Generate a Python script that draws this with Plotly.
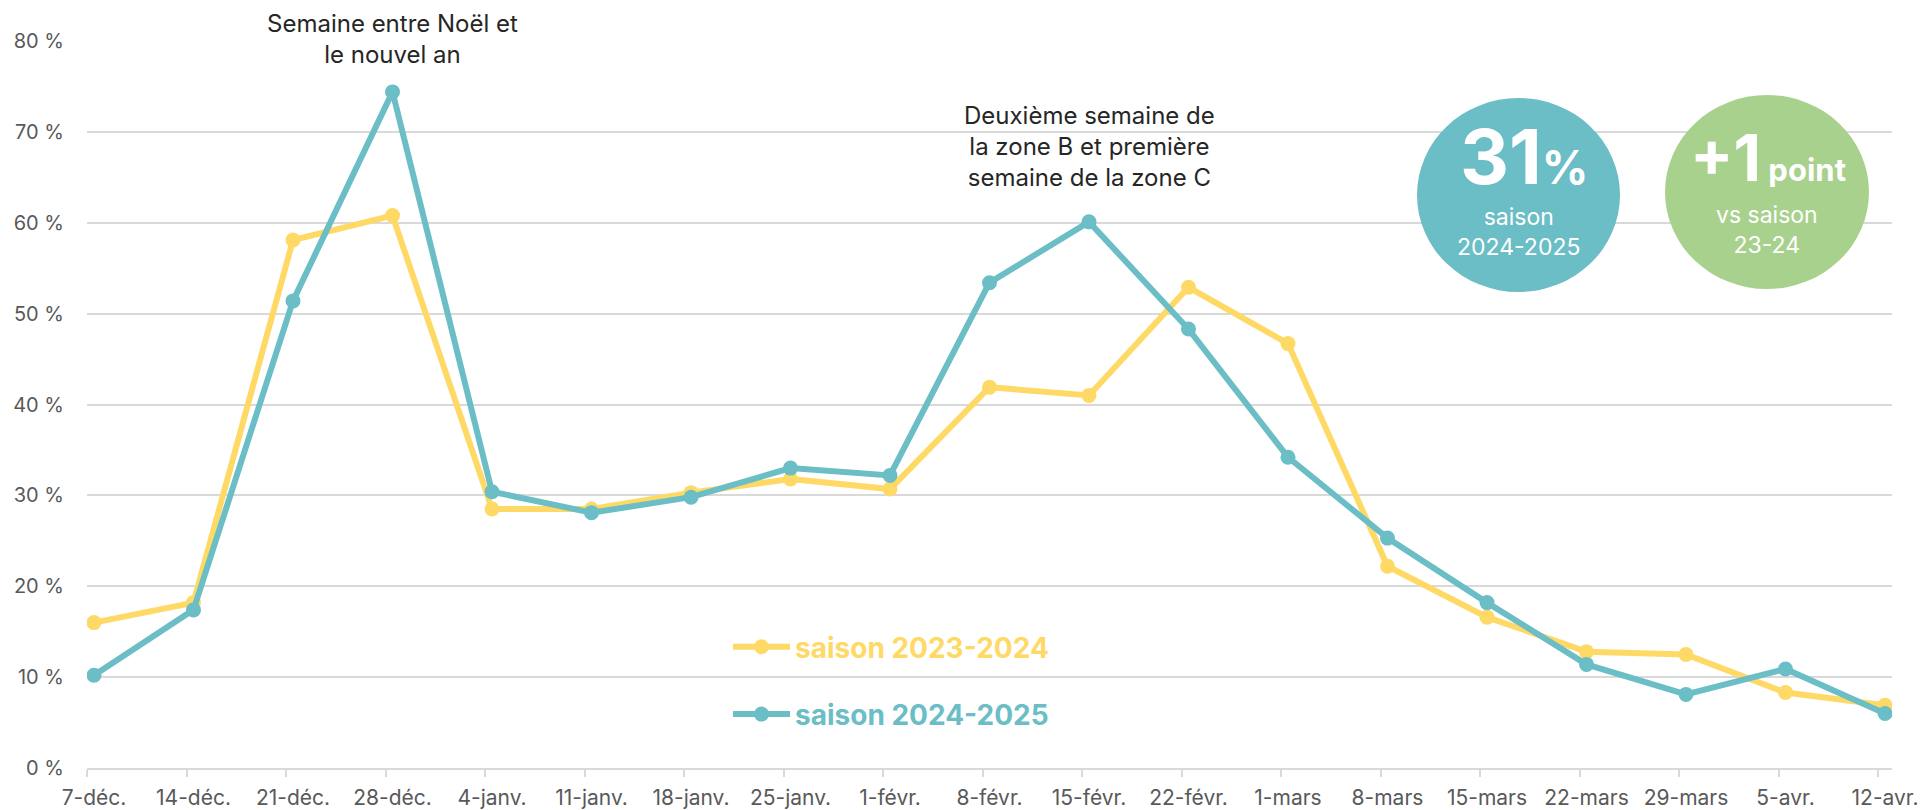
import plotly.graph_objects as go

# ---------------- data ----------------
weeks = ["7-déc.", "14-déc.", "21-déc.", "28-déc.", "4-janv.", "11-janv.", "18-janv.",
         "25-janv.", "1-févr.", "8-févr.", "15-févr.", "22-févr.", "1-mars", "8-mars",
         "15-mars", "22-mars", "29-mars", "5-avr.", "12-avr."]
saison_2023_2024 = [16.0, 18.2, 58.1, 60.8, 28.5, 28.5, 30.3, 31.8, 30.7, 41.9, 41.0,
                    52.9, 46.7, 22.2, 16.6, 12.8, 12.5, 8.3, 6.9]
saison_2024_2025 = [10.2, 17.4, 51.4, 74.4, 30.4, 28.1, 29.8, 33.0, 32.2, 53.4, 60.1,
                    48.3, 34.2, 25.3, 18.2, 11.4, 8.1, 10.9, 6.0]
series_names = ["saison 2023-2024", "saison 2024-2025"]
y_ticks = [0, 10, 20, 30, 40, 50, 60, 70, 80]

# ---------------- style ----------------
YELLOW = "#FFD966"
TEAL = "#6BBDC6"
GREEN = "#A9D18E"
GRID = "#D9D9D9"
LABEL = "#595959"
DARK = "#262626"
FONT = "Inter"

W, H = 1924, 810
L, R, T, B = 87, 32, 41, 42
PW, PH = W - L - R, H - T - B


def px(x):
    return (x - L) / PW


def py(y):
    return (H - B - y) / PH


xs = list(range(len(weeks)))
off = 7 / 99.5  # tick marks sit slightly left of the points

fig = go.Figure()
for name, vals, col in [(series_names[0], saison_2023_2024, YELLOW),
                        (series_names[1], saison_2024_2025, TEAL)]:
    fig.add_trace(go.Scatter(
        x=xs, y=vals, mode="lines+markers",
        name=f'<span style="color:{col}"><b>{name}</b></span>',
        legendgroup=name,
        line=dict(color=col, width=6),
        marker=dict(color=col, size=15),
        hoverinfo="skip",
    ))

annotations = [
    dict(text="Semaine entre Noël et<br>le nouvel an", xref="x", yref="paper",
         x=3, y=py(39), xanchor="center", yanchor="middle", showarrow=False,
         font=dict(family=FONT, size=24, color=DARK)),
    dict(text="Deuxième semaine de<br>la zone B et première<br>semaine de la zone C",
         xref="x", yref="paper", x=10, y=py(146), xanchor="center", yanchor="middle",
         showarrow=False, font=dict(family=FONT, size=24, color=DARK)),
    dict(text='<b>31</b><b><span style="font-size:46px">%</span></b>', xref="paper", yref="paper",
         x=px(1524), y=py(156), xanchor="center", yanchor="middle", showarrow=False,
         font=dict(family=FONT, size=76, color="white")),
    dict(text="saison<br>2024-2025", xref="paper", yref="paper",
         x=px(1518), y=py(232), xanchor="center", yanchor="middle", showarrow=False,
         font=dict(family=FONT, size=23, color="white")),
    dict(text='<b>+1</b><b><span style="font-size:31px"> point</span></b>', xref="paper", yref="paper",
         x=px(1768), y=py(158), xanchor="center", yanchor="middle", showarrow=False,
         font=dict(family=FONT, size=64, color="white")),
    dict(text="vs saison<br>23-24", xref="paper", yref="paper",
         x=px(1767), y=py(230), xanchor="center", yanchor="middle", showarrow=False,
         font=dict(family=FONT, size=23, color="white")),
]

shapes = [
    dict(type="circle", xref="paper", yref="paper", x0=px(1417), x1=px(1620),
         y0=py(292), y1=py(98), fillcolor=TEAL, line=dict(width=0), layer="above"),
    dict(type="circle", xref="paper", yref="paper", x0=px(1665), x1=px(1869),
         y0=py(289), y1=py(95), fillcolor=GREEN, line=dict(width=0), layer="above"),
]

fig.update_layout(
    width=W, height=H,
    margin=dict(l=L, r=R, t=T, b=B, pad=0, autoexpand=False),
    paper_bgcolor="white", plot_bgcolor="white",
    font=dict(family=FONT, color=LABEL),
    showlegend=True,
    legend=dict(x=px(728), y=py(622), xanchor="left", yanchor="top",
                bgcolor="rgba(0,0,0,0)", font=dict(family=FONT, size=28),
                tracegroupgap=28, traceorder="grouped", itemwidth=57),
    annotations=annotations,
    shapes=shapes,
)
fig.update_xaxes(
    range=[-off, len(weeks) - 1 + off], automargin=False,
    tickmode="array", tickvals=[i - off for i in xs], ticktext=weeks,
    ticklabelshift=7,
    ticks="outside", ticklen=7, tickwidth=1.8, tickcolor=GRID,
    showline=True, linecolor=GRID, linewidth=1.8,
    showgrid=False, zeroline=False,
    tickfont=dict(family=FONT, size=21, color=LABEL),
    ticklabelstandoff=3,
)
fig.update_yaxes(
    range=[0, 80], tickmode="array", tickvals=y_ticks, automargin=False,
    ticktext=[f"{v} %" for v in y_ticks],
    showgrid=True, gridcolor=GRID, gridwidth=1.8,
    zeroline=False, showline=False, ticks="",
    tickfont=dict(family=FONT, size=20, color=LABEL),
    ticklabelstandoff=22,
)

fig.write_html("out.html", post_script="document.body.style.margin='0';",
               config={"displayModeBar": False})
